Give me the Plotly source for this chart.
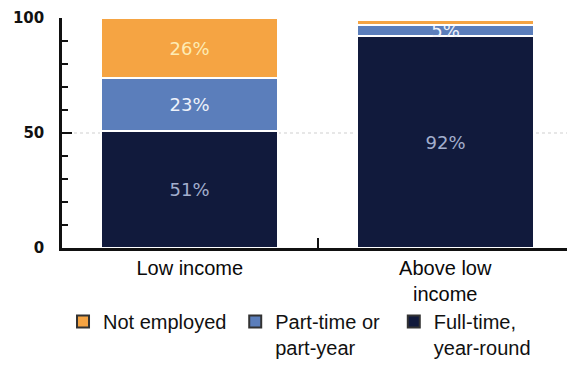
import plotly.graph_objects as go

# Employment status of workers by family income group (percent)
categories = ["Low income", "Above low<br>income"]
full_time = [51, 92]
part_time = [23, 5]
not_employed = [26, 2]

full_time_text = ["51%", "92%"]
part_time_text = ["23%", "5%"]
not_employed_text = ["26%", ""]

series_names = ["Full-time,<br>year-round", "Part-time or<br>part-year", "Not employed"]
colors = ["#111a3c", "#5b7ebb", "#f5a443"]
text_colors = ["#a3aecd", "#eef2fa", "#fdebb4"]

values = [full_time, part_time, not_employed]
texts = [full_time_text, part_time_text, not_employed_text]

fig = go.Figure()

for name, vals, txt, col, tcol in zip(series_names, values, texts, colors, text_colors):
    fig.add_trace(go.Bar(
        x=categories, y=vals, text=txt,
        textposition="inside", insidetextanchor="middle", textangle=0,
        constraintext="none",
        insidetextfont=dict(family="DejaVu Sans", size=18, color=tcol),
        marker=dict(color=col, line=dict(color="white", width=2)),
        width=0.693, showlegend=False, hoverinfo="skip",
    ))

# Legend swatches (bordered squares), one legend per entry; drawn on a hidden
# helper axis pair so they never show up in the plotting area.
legend_x = {"Not employed": 0.002, "Part-time or<br>part-year": 0.343, "Full-time,<br>year-round": 0.657}
legend_ids = {"Not employed": "legend", "Part-time or<br>part-year": "legend2", "Full-time,<br>year-round": "legend3"}
for name, col in zip(series_names, colors):
    fig.add_trace(go.Bar(
        x=[0], y=[1], name=name, legend=legend_ids[name],
        xaxis="x2", yaxis="y2",
        marker=dict(color=col, line=dict(color="#333333", width=2)),
        showlegend=True, hoverinfo="skip",
    ))

legend_common = dict(
    yanchor="top", xanchor="left",
    y=-0.235, orientation="v", valign="top",
    font=dict(family="Liberation Sans", size=20, color="#111111"),
    bgcolor="rgba(0,0,0,0)", borderwidth=0,
)

fig.update_layout(
    barmode="stack",
    bargap=0,
    width=567, height=365,
    margin=dict(l=62, r=0, t=18, b=117, autoexpand=False),
    paper_bgcolor="white", plot_bgcolor="white",
    legend=dict(x=legend_x["Not employed"], **legend_common),
    legend2=dict(x=legend_x["Part-time or<br>part-year"], **legend_common),
    legend3=dict(x=legend_x["Full-time,<br>year-round"], **legend_common),
    xaxis=dict(
        range=[-0.5, 1.4765],
        showline=True, linecolor="#111111", linewidth=2.5,
        ticks="inside", tickson="boundaries", ticklen=10, tickwidth=2, tickcolor="#111111",
        tickfont=dict(family="Liberation Sans", size=20, color="#0a0a0a"),
        showgrid=False, zeroline=False,
    ),
    yaxis=dict(
        range=[0, 100], tickmode="linear", tick0=0, dtick=50,
        showline=True, linecolor="#111111", linewidth=2.5,
        ticks="inside", ticklen=10, tickwidth=2, tickcolor="#111111",
        minor=dict(ticks="inside", dtick=10, ticklen=6, tickwidth=2, tickcolor="#111111", showgrid=False),
        tickfont=dict(family="DejaVu Sans", size=15, color="#111111", weight="bold"),
        ticklabelstandoff=12,
        showgrid=False, zeroline=False,
    ),
    xaxis2=dict(overlaying="x", anchor="y2", range=[10, 11], visible=False, fixedrange=True),
    yaxis2=dict(overlaying="y", anchor="x2", range=[10, 11], visible=False, fixedrange=True),
    shapes=[dict(type="line", xref="paper", yref="y", x0=0, x1=1, y0=50, y1=50,
                 line=dict(color="#cfcfcf", width=1, dash="dot"), layer="below")],
)

fig.write_html("out.html")
